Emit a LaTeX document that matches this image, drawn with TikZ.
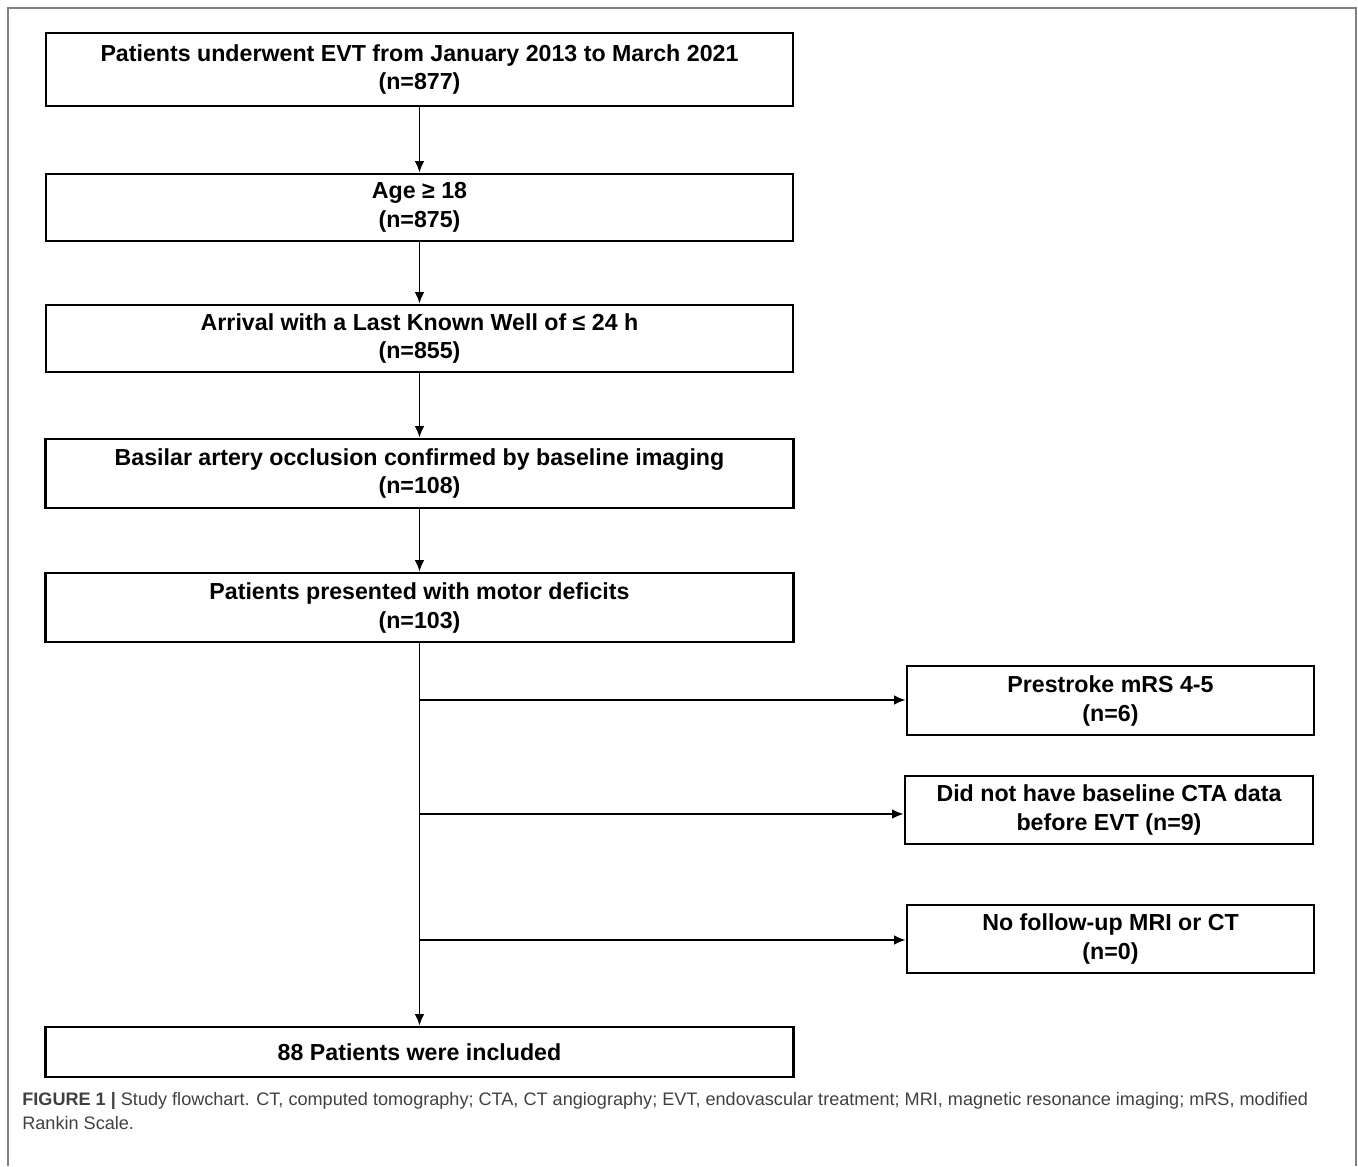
\documentclass[tikz,border=0pt]{standalone}
\usepackage{fontspec}
\setmainfont{Liberation Sans}
\usetikzlibrary{arrows.meta, positioning}

\tikzset{
  boite/.style={draw, line width=1.6pt, rectangle, align=center, inner sep=0pt,
    font=\fontsize{13.2}{16.5}\selectfont\bfseries},
  fleche/.style={-{Latex[length=6.5pt,width=5.5pt]}, line width=1.1pt},
}

\begin{document}
\begin{tikzpicture}[x=0.02cm, y=-0.02cm]
        % Cadre
        \useasboundingbox (0,0) rectangle (1358,1166);
        \draw[gray, line width=1.2pt] (8,1166) -- (8,8) -- (1356,8) -- (1356,1166);

        % Colonne principale
        \node[boite, minimum width=14.94cm, minimum height=1.46cm] (b1) at (419.5,69.5)
          {Patients underwent EVT from January 2013 to March 2021\\(n=877)};
        \node[boite, minimum width=14.94cm, minimum height=1.34cm] (b2) at (419.5,207.5)
          {Age ≥ 18\\(n=875)};
        \node[boite, minimum width=14.94cm, minimum height=1.34cm] (b3) at (419.5,338.5)
          {Arrival with a Last Known Well of ≤ 24 h\\(n=855)};
        \node[boite, minimum width=14.96cm, minimum height=1.38cm] (b4) at (419.5,473.5)
          {Basilar artery occlusion confirmed by baseline imaging\\(n=108)};
        \node[boite, minimum width=14.96cm, minimum height=1.38cm] (b5) at (419.5,607.5)
          {Patients presented with motor deficits\\(n=103)};
        \node[boite, minimum width=14.96cm, minimum height=1.0cm] (b6) at (419.5,1052)
          {88 Patients were included};

        % Exclusions
        \node[boite, minimum width=8.14cm, minimum height=1.38cm] (e1) at (1110.5,700.5)
          {Prestroke mRS 4-5\\(n=6)};
        \node[boite, minimum width=8.16cm, minimum height=1.36cm] (e2) at (1109,810)
          {Did not have baseline CTA data\\before EVT (n=9)};
        \node[boite, minimum width=8.14cm, minimum height=1.36cm] (e3) at (1110.5,939)
          {No follow-up MRI or CT\\(n=0)};

        % Fleches
        \draw[fleche] (b1) -- (b2);
        \draw[fleche] (b2) -- (b3);
        \draw[fleche] (b3) -- (b4);
        \draw[fleche] (b4) -- (b5);
        \draw[fleche] (b5) -- (b6);
        \coordinate (j1) at (419.5,700);
        \coordinate (j2) at (419.5,814);
        \coordinate (j3) at (419.5,940);
        \draw[fleche] (j1) -- (j1 -| e1.west);
        \draw[fleche] (j2) -- (j2 -| e2.west);
        \draw[fleche] (j3) -- (j3 -| e3.west);

        % Legende
        \node[anchor=base west, align=left, inner sep=0pt, text=black!75,
          font=\fontsize{10.3}{13.6}\selectfont] (legende) at (22,1129)
          {\textbf{FIGURE 1 |} Study flowchart. CT, computed tomography; CTA, CT angiography; EVT, endovascular treatment; MRI, magnetic resonance imaging; mRS, modified\\Rankin Scale.};
    \end{tikzpicture}
\end{document}
